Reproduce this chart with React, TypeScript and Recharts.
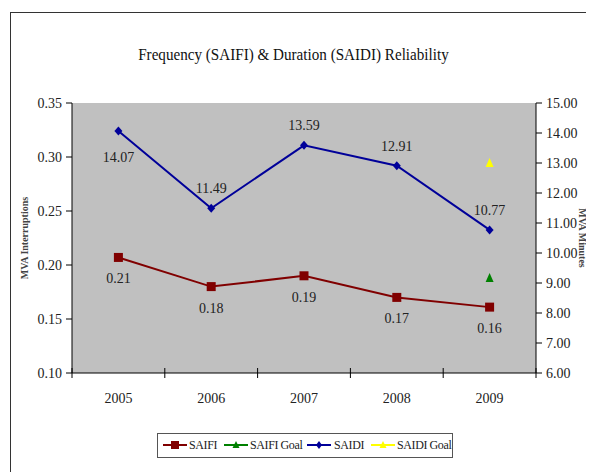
import React from 'react';
import { LineChart, Line, XAxis, YAxis, CartesianGrid, LabelList, Legend } from 'recharts';

const years = ['2005', '2006', '2007', '2008', '2009'];
const saifi = [0.207, 0.18, 0.19, 0.17, 0.161];
const saifiGoal = [null, null, null, null, 0.188];
const saidi = [14.07, 11.49, 13.59, 12.91, 10.77];
const saidiGoal = [null, null, null, null, 13.0];
const leftTicks = [0.1, 0.15, 0.2, 0.25, 0.3, 0.35];
const rightTicks = [6, 7, 8, 9, 10, 11, 12, 13, 14, 15];
const saidiLabelBelow = [true, false, false, false, false];

const data = years.map((y, i) => ({
  x: i + 0.5,
  year: y,
  saifi: saifi[i],
  saifiGoal: saifiGoal[i],
  saidi: saidi[i],
  saidiGoal: saidiGoal[i],
}));
const xTicks: number[] = [];
for (let i = 0; i <= years.length; i++) {
  xTicks.push(i);
  if (i < years.length) xTicks.push(i + 0.5);
}

const FONT = '"Liberation Serif", "Times New Roman", serif';
const RED = '#800000';
const BLUE = '#000099';
const GREEN = '#008000';
const YELLOW = '#ffff00';

const SquareDot = (p: any) => {
  if (p.cx == null || p.cy == null || p.value == null) return <g key={p.key ?? p.index} />;
  return <rect key={p.key ?? p.index} x={p.cx - 4.5} y={p.cy - 4.5} width={9} height={9} fill={RED} />;
};
const DiamondDot = (p: any) => {
  if (p.cx == null || p.cy == null || p.value == null) return <g key={p.key ?? p.index} />;
  return (
    <polygon key={p.key ?? p.index}
      points={`${p.cx},${p.cy - 4.5} ${p.cx + 4},${p.cy} ${p.cx},${p.cy + 4.5} ${p.cx - 4},${p.cy}`}
      fill={BLUE} />
  );
};
const triDot = (color: string) => (p: any) => {
  if (p.cx == null || p.cy == null || p.value == null) return <g key={p.key ?? p.index} />;
  return (
    <polygon key={p.key ?? p.index}
      points={`${p.cx},${p.cy - 5} ${p.cx + 4},${p.cy + 4} ${p.cx - 4},${p.cy + 4}`}
      fill={color} />
  );
};

const XTick = (p: any) => {
  const { x, y, payload } = p;
  const v = payload.value;
  if (Number.isInteger(v)) {
    return <line x1={x} x2={x} y1={y - 5} y2={y + 5} stroke="#000" strokeWidth={1} />;
  }
  const idx = Math.floor(v);
  return (
    <text x={x} y={y + 30} textAnchor="middle" fontFamily={FONT} fontSize={14} fill="#222">
      {years[idx]}
    </text>
  );
};

const LeftTick = (p: any) => {
  const { x, y, payload } = p;
  return (
    <text x={x - 2} y={y + 5} textAnchor="end" fontFamily={FONT} fontSize={14} fill="#222">
      {Number(payload.value).toFixed(2)}
    </text>
  );
};
const RightTick = (p: any) => {
  const { x, y, payload } = p;
  return (
    <text x={x + 2} y={y + 5} textAnchor="start" fontFamily={FONT} fontSize={14} fill="#222">
      {Number(payload.value).toFixed(2)}
    </text>
  );
};

const saifiLabel = (p: any) => {
  const { x, y, value, index } = p;
  if (value == null) return null;
  return (
    <text key={index} x={x} y={y + 26} textAnchor="middle" fontFamily={FONT} fontSize={14} fill="#222">
      {Number(value).toFixed(2)}
    </text>
  );
};
const saidiLabel = (p: any) => {
  const { x, y, value, index } = p;
  if (value == null) return null;
  const below = saidiLabelBelow[index];
  return (
    <text key={index} x={x} y={below ? y + 31 : y - 15} textAnchor="middle" fontFamily={FONT} fontSize={14} fill="#222">
      {Number(value).toFixed(2)}
    </text>
  );
};

const legendItems = [
  { name: 'SAIFI', color: RED, marker: 'square', m: 4, t: 31 },
  { name: 'SAIFI Goal', color: GREEN, marker: 'tri', m: 65, t: 92 },
  { name: 'SAIDI', color: BLUE, marker: 'diamond', m: 148, t: 176 },
  { name: 'SAIDI Goal', color: YELLOW, marker: 'tri', m: 212, t: 239 },
];

const LegendContent = () => (
  <div style={{ position: 'relative', border: '1.5px solid #555', background: '#fff', height: 25, width: 296, boxSizing: 'border-box', fontFamily: FONT, fontSize: 12, color: '#222' }}>
    {legendItems.map((it) => (
      <React.Fragment key={it.name}>
        <svg width={26} height={12} style={{ position: 'absolute', left: it.m, top: 5 }}>
          <line x1={1} y1={6} x2={25} y2={6} stroke={it.color} strokeWidth={2} />
          {it.marker === 'square' && <rect x={9} y={2} width={8} height={8} fill={it.color} />}
          {it.marker === 'diamond' && <polygon points="13,2 16,6 13,10 10,6" fill={it.color} />}
          {it.marker === 'tri' && <polygon points="13,2 16.5,9 9.5,9" fill={it.color} />}
        </svg>
        <span style={{ position: 'absolute', left: it.t, top: 4, whiteSpace: 'nowrap', letterSpacing: -0.4 }}>{it.name}</span>
      </React.Fragment>
    ))}
  </div>
);

export default function App() {
  return (
    <div style={{ position: 'relative', width: 586, height: 464, background: '#fff', overflow: 'hidden', fontFamily: FONT }}>
      <div style={{ position: 'absolute', left: 2, top: 4, right: -10, bottom: -10, borderTop: '1.5px solid #333', borderLeft: '1.5px solid #333' }} />
      <div style={{ position: 'absolute', left: 0, top: 37, width: 570, textAlign: 'center', fontFamily: FONT, fontSize: 17, color: '#111', whiteSpace: 'nowrap' }}>
        <span style={{ display: 'inline-block', transform: 'scaleX(0.89)' }}>
          Frequency (SAIFI) &amp; Duration (SAIDI) Reliability
        </span>
      </div>
      <div style={{ position: 'absolute', left: 0, top: 0 }}>
        <LineChart width={586} height={464} data={data} margin={{ top: 95, right: 0, bottom: 59, left: 0 }} style={{ fontFamily: FONT }}>
          <CartesianGrid fill="#c0c0c0" horizontal={false} vertical={false} />
          <XAxis dataKey="x" type="number" domain={[0, 5]} ticks={xTicks} interval={0} stroke="#000"
            tickLine={false} tickSize={0} tickMargin={0} tick={XTick} height={40} />
          <YAxis yAxisId="left" orientation="left" domain={[0.1, 0.35]} ticks={leftTicks} interval={0} width={64}
            stroke="#000" tickSize={6} tick={LeftTick}
            label={{ value: 'MVA Interruptions', angle: -90, position: 'insideLeft', offset: 16, style: { fontFamily: FONT, fontSize: 10, fontWeight: 'bold', fill: '#444', textAnchor: 'middle' } }} />
          <YAxis yAxisId="right" orientation="right" domain={[6, 15]} ticks={rightTicks} interval={0} width={58}
            stroke="#000" tickSize={6} tick={RightTick}
            label={{ value: 'MVA Minutes', angle: 90, position: 'insideRight', offset: 11, style: { fontFamily: FONT, fontSize: 10, fontWeight: 'bold', fill: '#444', textAnchor: 'middle' } }} />
          <Line yAxisId="left" dataKey="saifi" name="SAIFI" stroke={RED} strokeWidth={2} dot={SquareDot} isAnimationActive={false}>
            <LabelList dataKey="saifi" content={saifiLabel} />
          </Line>
          <Line yAxisId="left" dataKey="saifiGoal" name="SAIFI Goal" stroke={GREEN} strokeWidth={2} dot={triDot(GREEN)} isAnimationActive={false} />
          <Line yAxisId="right" dataKey="saidi" name="SAIDI" stroke={BLUE} strokeWidth={2} dot={DiamondDot} isAnimationActive={false}>
            <LabelList dataKey="saidi" content={saidiLabel} />
          </Line>
          <Line yAxisId="right" dataKey="saidiGoal" name="SAIDI Goal" stroke={YELLOW} strokeWidth={2} dot={triDot(YELLOW)} isAnimationActive={false} />
          <Legend layout="horizontal" verticalAlign="middle" align="center" content={LegendContent}
            wrapperStyle={{ position: 'absolute', left: 149, top: 425, width: 300 }} />
        </LineChart>
      </div>
    </div>
  );
}
